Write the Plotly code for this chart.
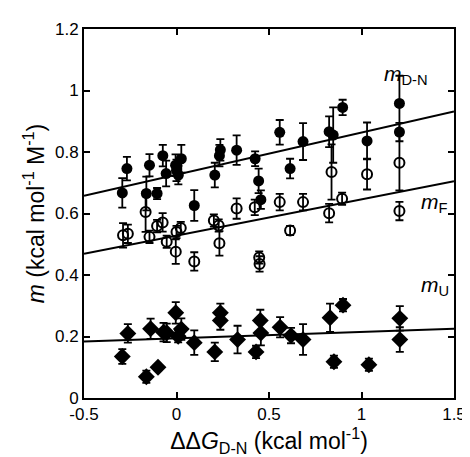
import plotly.graph_objects as go

# m_D-N (filled circles)
dn_x = [-0.293, -0.268, -0.163, -0.146, -0.105, -0.074, -0.056, -0.005, 0.0, 0.026, 0.01,
        0.096, 0.207, 0.232, 0.237, 0.325, 0.425, 0.444, 0.456, 0.558, 0.614, 0.684,
        0.825, 0.847, 0.898, 1.03, 1.205, 1.205]
dn_y = [0.667, 0.746, 0.665, 0.757, 0.665, 0.788, 0.730, 0.757, 0.740, 0.778, 0.725,
        0.626, 0.725, 0.788, 0.807, 0.806, 0.778, 0.706, 0.645, 0.864, 0.746, 0.834,
        0.866, 0.855, 0.945, 0.836, 0.958, 0.865]
dn_e = [0.048, 0.038, 0.055, 0.036, 0.018, 0.035, 0.042, 0.035, 0.035, 0.045, 0.03,
        0.05, 0.04, 0.035, 0.035, 0.048, 0.024, 0.04, 0.03, 0.04, 0.032, 0.06,
        0.05, 0.09, 0.025, 0.06, 0.09, 0.03]

# m_F (open circles)
f_x = [-0.289, -0.263, -0.167, -0.146, -0.105, -0.075, -0.053, -0.004, 0.0, 0.023,
       0.096, 0.202, 0.228, 0.232, 0.325, 0.423, 0.447, 0.449, 0.558, 0.614, 0.684,
       0.825, 0.838, 0.895, 1.03, 1.205, 1.205]
f_y = [0.529, 0.534, 0.605, 0.524, 0.559, 0.571, 0.508, 0.476, 0.540, 0.553,
       0.444, 0.577, 0.561, 0.503, 0.616, 0.620, 0.457, 0.436, 0.637, 0.545, 0.637,
       0.601, 0.735, 0.648, 0.728, 0.765, 0.608]
f_e = [0.04, 0.03, 0.065, 0.02, 0.02, 0.03, 0.02, 0.04, 0.02, 0.02,
       0.03, 0.02, 0.02, 0.04, 0.033, 0.025, 0.02, 0.025, 0.027, 0.015, 0.027,
       0.03, 0.09, 0.02, 0.05, 0.09, 0.03]

# m_U (diamonds)
u_x = [-0.293, -0.263, -0.163, -0.14, -0.1, -0.07, -0.053, -0.004, 0.009, 0.026,
       0.096, 0.207, 0.237, 0.237, 0.33, 0.43, 0.453, 0.456, 0.56, 0.619, 0.684,
       0.83, 0.851, 0.9, 1.04, 1.207, 1.207]
u_y = [0.135, 0.21, 0.069, 0.225, 0.1, 0.214, 0.212, 0.277, 0.201, 0.224,
       0.18, 0.15, 0.277, 0.252, 0.19, 0.15, 0.252, 0.211, 0.23, 0.203, 0.19,
       0.261, 0.118, 0.302, 0.108, 0.259, 0.19]
u_e = [0.024, 0.03, 0.02, 0.033, 0.0, 0.03, 0.03, 0.035, 0.02, 0.035,
       0.04, 0.03, 0.03, 0.03, 0.045, 0.02, 0.035, 0.04, 0.033, 0.025, 0.05,
       0.046, 0.02, 0.02, 0.02, 0.04, 0.04]

# linear fits: intercept, slope
fit_dn = (0.726, 0.137)
fit_f = (0.528, 0.118)
fit_u = (0.194, 0.021)

x_range = [-0.5, 1.5]
x_ticks = [-0.5, 0, 0.5, 1, 1.5]
x_ticktext = ["-0.5", "0", "0.5", "1", "1.5"]
y_ticks = [0, 0.2, 0.4, 0.6, 0.8, 1.0, 1.2]
y_ticktext = ["0", "0.2", "0.4", "0.6", "0.8", "1", "1.2"]

FONT = "Liberation Sans, Arial, Helvetica, sans-serif"

fig = go.Figure()

def err(e):
    return dict(type="data", array=e, visible=True, color="black", thickness=1.8, width=4)

for fit in (fit_dn, fit_f, fit_u):
    fig.add_trace(go.Scatter(
        x=x_range, y=[fit[0] + fit[1] * xv for xv in x_range],
        mode="lines", line=dict(color="black", width=2), hoverinfo="skip"))

fig.add_trace(go.Scatter(x=f_x, y=f_y, mode="markers", error_y=err(f_e),
                         marker=dict(symbol="circle-open", size=10, color="black",
                                     line=dict(width=2, color="black"))))
fig.add_trace(go.Scatter(x=dn_x, y=dn_y, mode="markers", error_y=err(dn_e),
                         marker=dict(symbol="circle", size=11, color="black")))
fig.add_trace(go.Scatter(x=u_x, y=u_y, mode="markers", error_y=err(u_e),
                         marker=dict(symbol="diamond", size=13, color="black")))

axis_common = dict(showline=True, linecolor="black", linewidth=2, mirror="ticks",
                   ticks="inside", ticklen=6, tickwidth=2, tickcolor="black",
                   showgrid=False, zeroline=False,
                   tickfont=dict(family=FONT, size=17, color="black"))

fig.update_xaxes(range=x_range, tickvals=x_ticks, ticktext=x_ticktext,
                 ticklabeloverflow="allow",
                 title=dict(text="ΔΔ<i>G</i><sub>D-N</sub> (kcal mol<sup>-1</sup>)",
                            font=dict(family=FONT, size=23, color="black"), standoff=2),
                 **axis_common)
fig.update_yaxes(range=[0, 1.2], tickvals=y_ticks, ticktext=y_ticktext,
                 title=dict(text="<i>m</i> (kcal mol<sup>-1</sup> M<sup>-1</sup>)",
                            font=dict(family=FONT, size=23, color="black"), standoff=4),
                 **axis_common)

labels = [("<i>m</i><sub>D-N</sub>", 1.11, 1.05), ("<i>m</i><sub>F</sub>", 1.31, 0.633),
          ("<i>m</i><sub>U</sub>", 1.31, 0.365)]
for txt, ax, ay in labels:
    fig.add_annotation(x=ax, y=ay, text=txt, showarrow=False, xanchor="left", yanchor="middle",
                       font=dict(family=FONT, size=21, color="black"))

fig.update_layout(width=470, height=457, showlegend=False,
                  plot_bgcolor="white", paper_bgcolor="white",
                  margin=dict(l=76, r=14, t=12, b=67))

fig.write_html("out.html")
